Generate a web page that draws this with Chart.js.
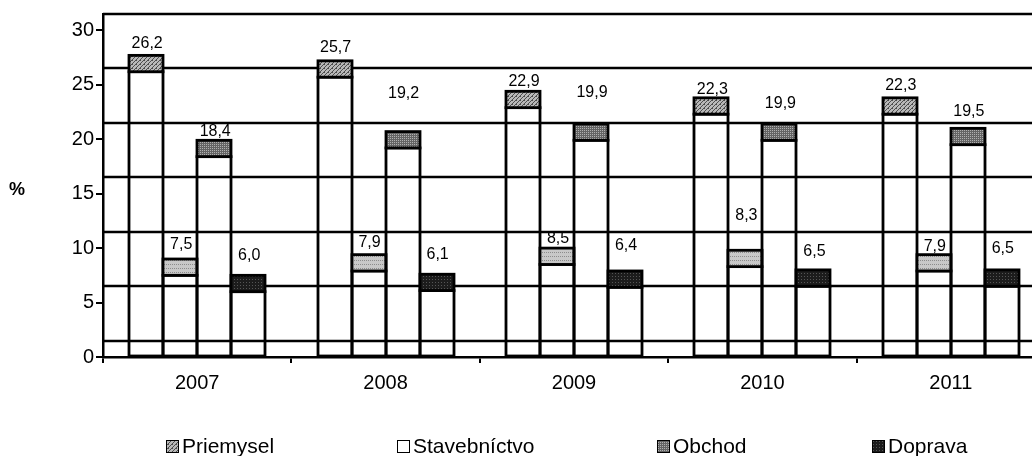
<!DOCTYPE html>
<html>
<head>
<meta charset="utf-8">
<script src="https://cdn.jsdelivr.net/npm/chart.js@4.4.1/dist/chart.umd.min.js"></script>
<style>
  html, body { margin: 0; padding: 0; background: #fff; overflow: hidden; }
  #wrap { width: 1050px; height: 456px; }
  canvas { display: block; }
</style>
</head>
<body>
<div id="wrap"><canvas id="chart" width="1050" height="456"></canvas></div>
<script>
// data
const YEARS = ['2007', '2008', '2009', '2010', '2011'];
const SERIES = ['Priemysel', 'Stavebníctvo', 'Obchod', 'Doprava'];
const PRIEMYSEL    = [26.2, 25.7, 22.9, 22.3, 22.3];
const STAVEBNICTVO = [7.5, 7.9, 8.5, 8.3, 7.9];
const OBCHOD       = [18.4, 19.2, 19.9, 19.9, 19.5];
const DOPRAVA      = [6.0, 6.1, 6.4, 6.5, 6.5];
const Y_TICKS = [0, 5, 10, 15, 20, 25, 30];

// look of the old 3D excel chart
const DEPTH = 1.5;              // cap / back wall offset, in axis units
const FONT = "'Liberation Sans', Arial, sans-serif";
const LABEL_LIFT = [            // px from cap top to label centre
  [12, 13, 10, 8, 12],
  [14, 12, 10, 35, 8],
  [9, 38, 31, 20, 17],
  [20, 20, 25, 18, 21]
];
const LEGEND_X = [166, 397, 657, 872];

function makePattern(size, bg, fg, dots) {
  const c = document.createElement('canvas');
  c.width = size; c.height = size;
  const g = c.getContext('2d');
  g.fillStyle = bg; g.fillRect(0, 0, size, size);
  g.fillStyle = fg;
  dots.forEach(([x, y]) => g.fillRect(x, y, 1, 1));
  return g.createPattern(c, 'repeat');
}

const ctx = document.getElementById('chart').getContext('2d');
const CAPS = [
  makePattern(4, '#b8b8b8', '#4e4e4e', [[3,0],[2,1],[1,2],[0,3],[0,0]]),
  makePattern(4, '#c8c8c8', '#8c8c8c', [[0,0],[2,0]]),
  makePattern(2, '#646464', '#b0b0b0', [[0,0]]),
  makePattern(3, '#1c1c1c', '#555555', [[0,0]])
];
const SWATCHES = [CAPS[0], '#ffffff', CAPS[2], CAPS[3]];

const fmt = v => v.toFixed(1).replace('.', ',');

const backWall = {
  id: 'backWall',
  beforeDatasetsDraw(chart) {
    const { ctx, chartArea: a, scales: { y } } = chart;
    ctx.save();
    ctx.strokeStyle = '#000';
    ctx.lineWidth = 2.4;
    Y_TICKS.forEach(t => {
      const py = Math.round(y.getPixelForValue(t + DEPTH));
      ctx.beginPath(); ctx.moveTo(a.left, py); ctx.lineTo(a.right, py); ctx.stroke();
    });
    ctx.restore();
  },
  afterDatasetsDraw(chart) {
    const { ctx, scales: { y } } = chart;
    ctx.save();
    ctx.strokeStyle = '#000';
    ctx.lineWidth = 2.8;
    chart.data.datasets.forEach((ds, i) => {
      chart.getDatasetMeta(i).data.forEach((bar, j) => {
        const { x, y: py, base, width } = bar.getProps(['x', 'y', 'base', 'width'], true);
        const left = Math.round(x - width / 2);
        const w = Math.round(width);
        const top = y.getPixelForValue(ds.data[j] + DEPTH);
        ctx.strokeRect(left, py, w, base - py);
        ctx.fillStyle = CAPS[i];
        ctx.fillRect(left, top, w, py - top);
        ctx.strokeRect(left, top, w, py - top);
        ctx.fillStyle = '#000';
        ctx.font = '16px ' + FONT;
        ctx.textAlign = 'center';
        ctx.textBaseline = 'middle';
        ctx.fillText(fmt(ds.data[j]), x + 1, top - LABEL_LIFT[i][j]);
      });
    });
    ctx.restore();
  },
  afterDraw(chart) {
    const { ctx } = chart;
    ctx.save();
    ctx.fillStyle = '#000';
    ctx.font = 'bold 18px ' + FONT;
    ctx.textAlign = 'center';
    ctx.textBaseline = 'middle';
    ctx.fillText('%', 17, 190);
    ctx.font = '21px ' + FONT;
    ctx.textAlign = 'left';
    ctx.textBaseline = 'alphabetic';
    SERIES.forEach((name, i) => {
      const bx = LEGEND_X[i];
      ctx.fillStyle = SWATCHES[i];
      ctx.fillRect(bx, 440, 13, 13);
      ctx.lineWidth = 1;
      ctx.strokeStyle = '#000';
      ctx.strokeRect(bx + 0.5, 440.5, 12, 12);
      ctx.fillStyle = '#000';
      ctx.fillText(name, bx + 16, 453);
    });
    ctx.restore();
  }
};

Chart.defaults.color = '#000';
Chart.defaults.font.family = FONT;

new Chart(ctx, {
  type: 'bar',
  data: {
    labels: YEARS,
    datasets: [PRIEMYSEL, STAVEBNICTVO, OBCHOD, DOPRAVA].map((d, i) => ({
      label: SERIES[i],
      data: d,
      backgroundColor: 'rgba(255,255,255,0)',
      borderWidth: 0,
      categoryPercentage: 0.722,
      barPercentage: 1
    }))
  },
  options: {
    responsive: false,
    animation: false,
    layout: { padding: { top: 12, right: 5, left: 0, bottom: 0 } },
    plugins: { legend: { display: false }, tooltip: { enabled: false } },
    scales: {
      x: {
        grid: { offset: true, drawOnChartArea: false, tickLength: 6, color: '#000', lineWidth: 2 },
        border: { color: '#000', width: 2.5 },
        ticks: { font: { size: 20 }, padding: 8, maxRotation: 0 },
        afterFit: s => { s.height = 99; }
      },
      y: {
        min: 0, max: 30 + DEPTH,
        afterBuildTicks: s => { s.ticks = Y_TICKS.map(v => ({ value: v })); },
        grid: { drawOnChartArea: false, tickLength: 7, color: '#000', lineWidth: 2 },
        border: { color: '#000', width: 2.5 },
        ticks: { font: { size: 20 }, padding: 2 },
        afterFit: s => { s.width = 103; }
      }
    }
  },
  plugins: [backWall]
});
</script>
</body>
</html>
